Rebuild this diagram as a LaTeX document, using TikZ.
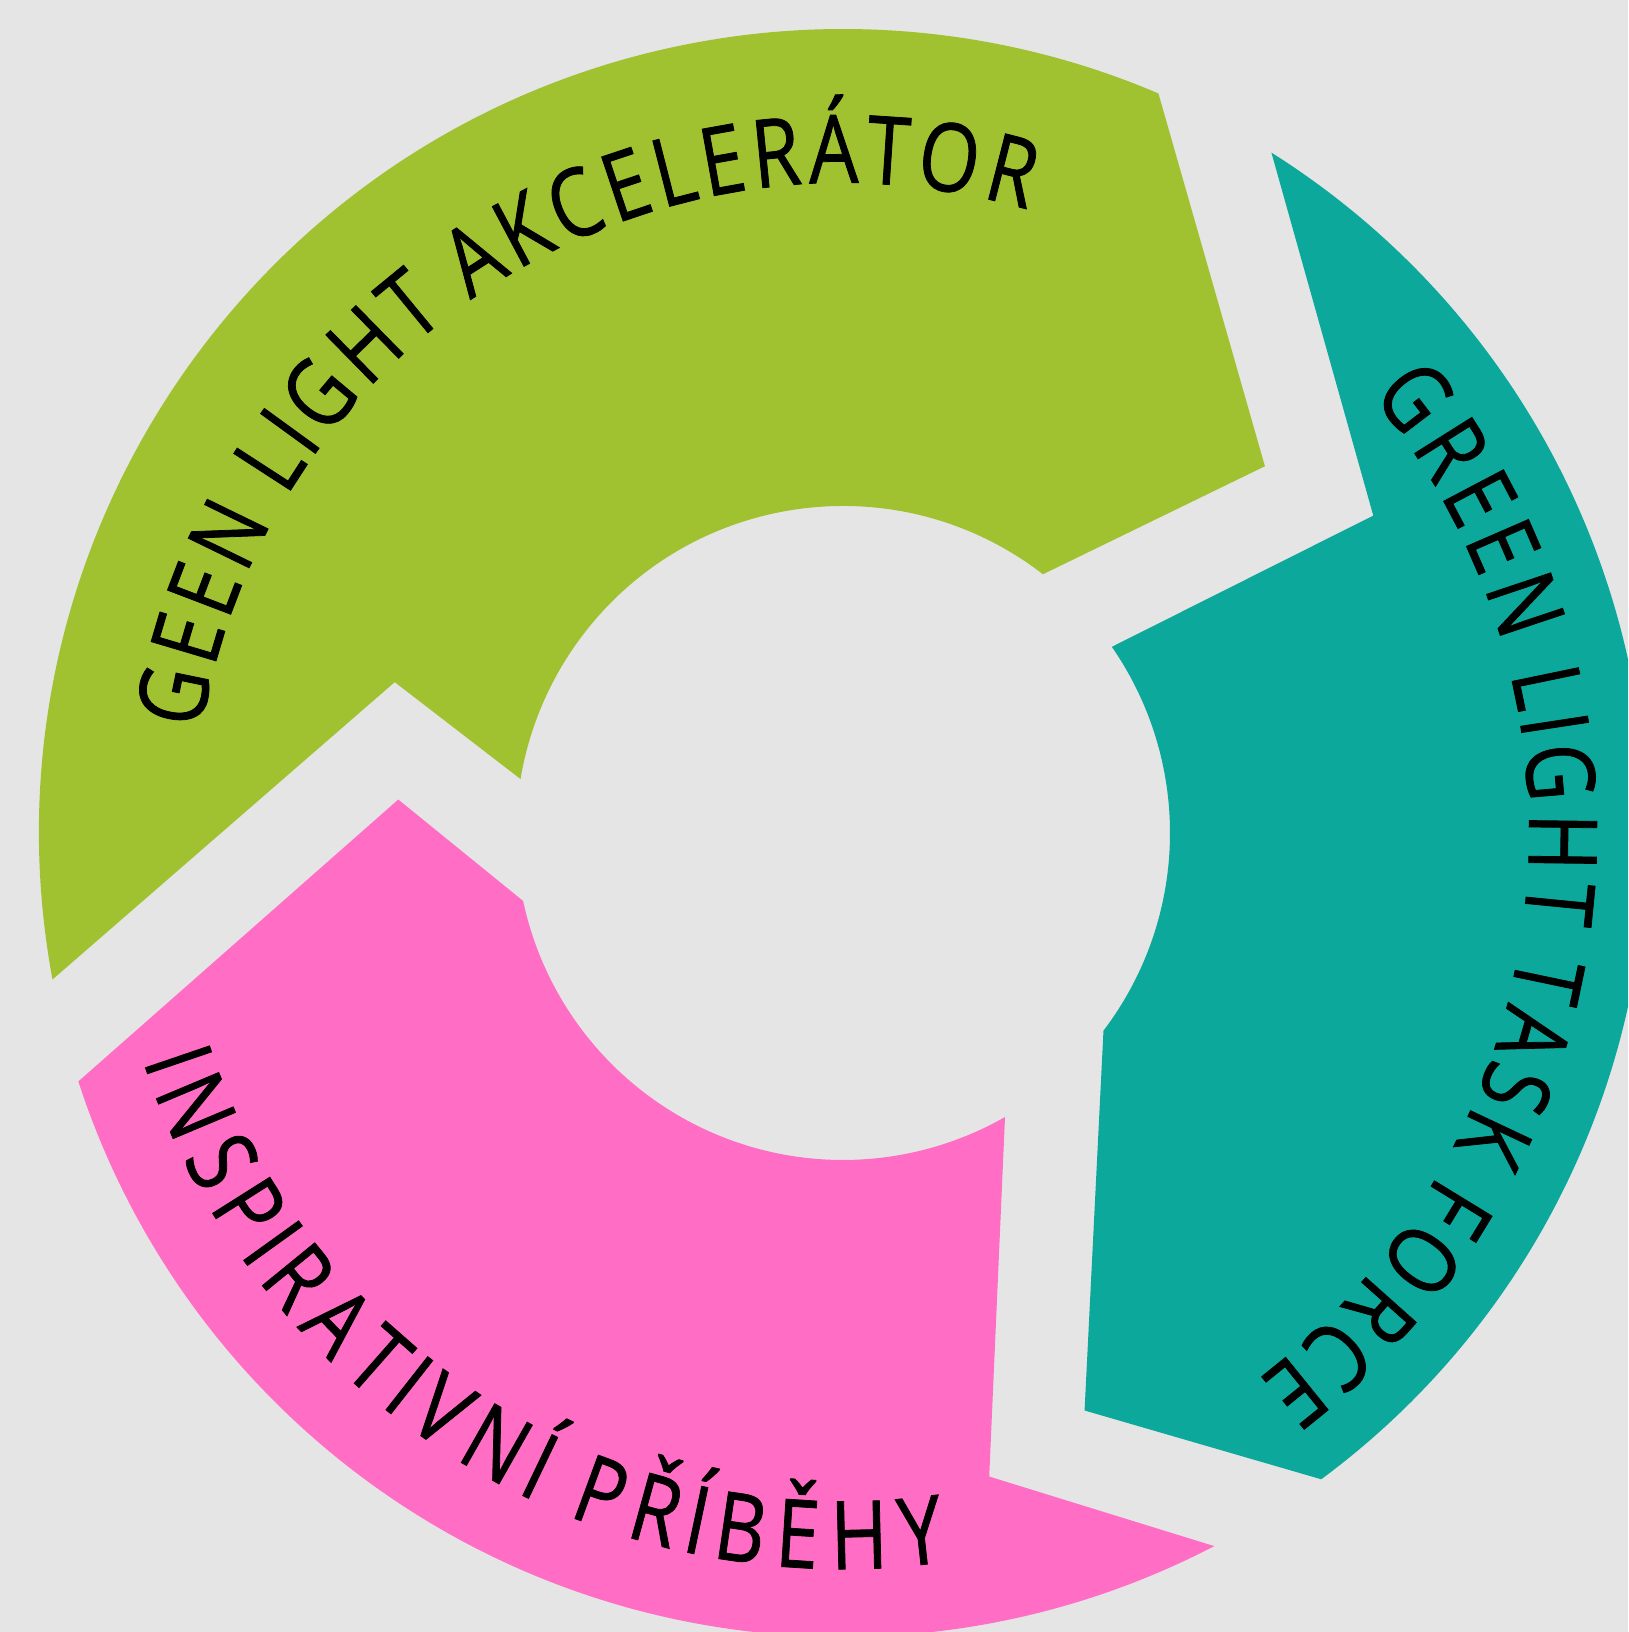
\documentclass[tikz,border=0pt]{standalone}
\usepackage{fontspec}
\setmainfont{Open Sans}
\newfontfamily\lblfont[FakeStretch=0.82,FakeBold=0.8]{Open Sans}
\usetikzlibrary{decorations.text}
\definecolor{bg}{HTML}{E5E5E5}
\definecolor{cgreen}{HTML}{A0C130}
\definecolor{cteal}{HTML}{0CA89B}
\definecolor{cpink}{HTML}{FF6EC4}
\newcommand\lblsize{\lblfont\fontsize{27}{31}\selectfont}
\tikzset{
  arctext/.style={decorate, decoration={text effects along path, text={#1},
    text effects/.cd, text along path, fit text to path}}
}
\begin{document}
\begin{tikzpicture}
\useasboundingbox (0,0) rectangle (16.28,16.32);
\clip (0,0) rectangle (16.28,16.32);
\fill[bg] (0,0) rectangle (16.28,16.32);
\coordinate (C) at (8.43,7.99);
\begin{scope}[shift={(C)}]
% green segment
\fill[cgreen] (190.5:8.04) arc[start angle=190.5, end angle=66.9, radius=8.04]
  -- (41:5.59) -- (52.3:3.27) arc[start angle=52.3, end angle=170.5, radius=3.27]
  -- (161.4:4.73) -- cycle;
% teal segment
\fill[cteal] (57.8:8.04) arc[start angle=57.8, end angle=-53.5, radius=8.04]
  -- (-67.3:6.26) -- (-37.2:3.27) arc[start angle=-37.2, end angle=34.7, radius=3.27]
  -- (30.9:6.18) -- cycle;
% pink segment
\fill[cpink] (-62.5:8.04) arc[start angle=-62.5, end angle=-162, radius=8.04]
  -- (-184.3:4.46) -- (-168:3.27) arc[start angle=-168, end angle=-60.3, radius=3.27]
  -- (-77.2:6.60) -- cycle;
% labels
{\lblsize
\path[arctext={GEEN LIGHT AKCELERÁTOR}] (170.9:6.50) arc[start angle=170.9, end angle=73.5, radius=6.50];
\path[arctext={GREEN LIGHT TASK FORCE}] (39.7:6.86) arc[start angle=39.7, end angle=-52.8, radius=6.86];
\path[arctext={INSPIRATIVNÍ PŘÍBĚHY}] (-162:7.36) arc[start angle=-162, end angle=-82, radius=7.36];
}
\end{scope}
\end{tikzpicture}
\end{document}
